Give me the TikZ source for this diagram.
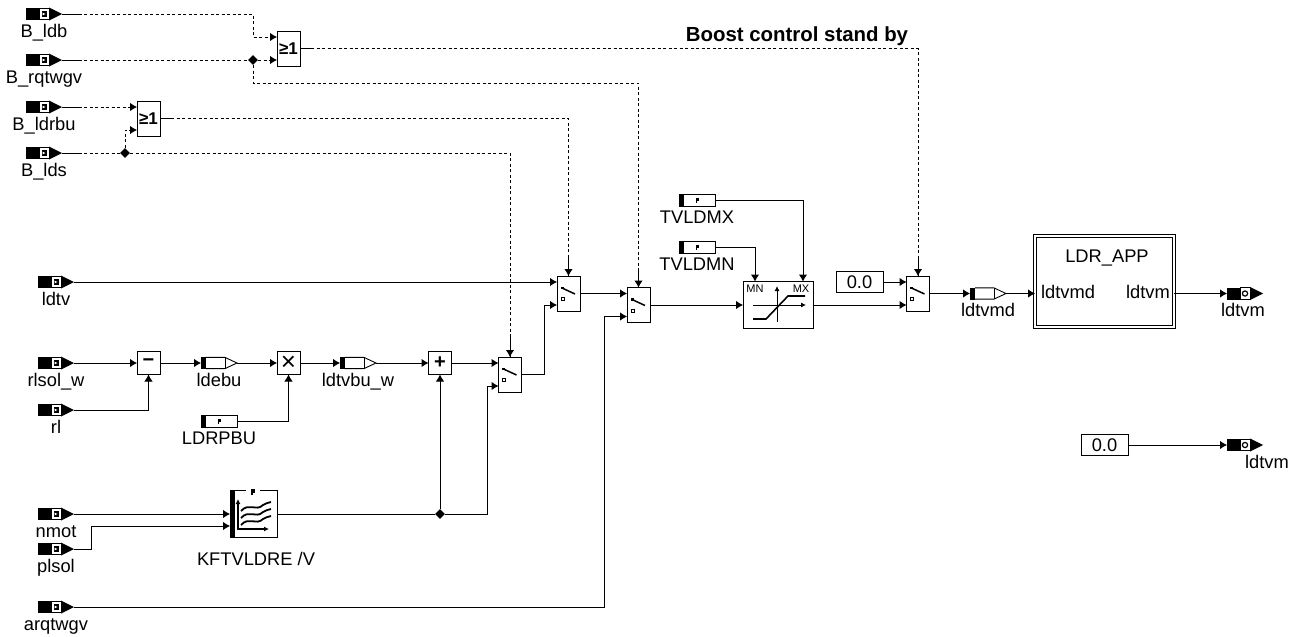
\documentclass[tikz,border=0pt]{standalone}
\usepackage{fontspec}
\setmainfont{Liberation Sans}
\usetikzlibrary{arrows.meta,shapes.geometric}
\tikzset{Lbase/.style={line width=1pt},
         Lsig/.style={Lbase,-{Latex[length=7pt,width=8.5pt]}},
         Lnet/.style={Lbase},
         Lda/.style={dash pattern=on 3pt off 2.5pt},
         Llab/.style={font=\fontsize{18.3}{20}\selectfont,inner sep=0pt,text height=13pt,text depth=4pt},
         Lport/.style={rectangle,inner sep=0pt,outer sep=0pt,minimum width=36pt,minimum height=12pt},
         Lbox/.style={rectangle,draw,fill=white,Lbase,inner sep=0pt,outer sep=0pt,minimum width=23pt,minimum height=35pt},
         Lop/.style={Lbox,minimum height=23pt,font=\fontsize{20}{20}\bfseries\selectfont},
         Lor/.style={Lbox,font=\fontsize{17}{17}\bfseries\selectfont},
         Lconst/.style={Lbox,minimum width=47pt,minimum height=21pt,font=\fontsize{18.3}{20}\selectfont},
         Ljun/.style={diamond,fill=black,inner sep=0pt,minimum size=10pt}}
\begin{document}
\begin{tikzpicture}[x=1pt,y=-1pt]
    \useasboundingbox (0,0) rectangle (1296,637);
    \foreach \n/\x/\y/\t in {pBldb/44/14/B\_ldb,pBrq/44/60/B\_rqtwgv,pBdr/44/107/B\_ldrbu,pBds/44/153/B\_lds,
        pldtv/56/282/ldtv,prlsol/56/363/rlsol\_w,prl/56/410/rl,pnmot/56/514/nmot,pplsol/56/549/plsol,parq/56/607/arqtwgv} {
      \node[Lport] (\n) at (\x,\y) {};
      \node[Llab] (\n t) at (\x,\y+18.5) {\t};
      \begin{scope}[shift={(\n.west)}]
        \fill (0,-6) rectangle (13,6);
        \draw[line width=.9pt] (13,-5.6) rectangle (23,5.6);
        \fill (15.5,-2.7) rectangle (20.5,2.7);
        \fill[white] (16.5,-1.4) -- (19.5,0) -- (16.5,1.4) -- cycle;
        \fill (23,-6.5) -- (36,0) -- (23,6.5) -- cycle;
      \end{scope}}
    \foreach \n/\y/\d in {pout/293.5/-2,poutb/445/22} {
      \node[Lport] (\n) at (1245,\y) {};
      \node[Llab] (\n t) at (1245+\d,\y+18.5) {ldtvm};
      \begin{scope}[shift={(\n.west)}]
        \fill (0,-6) rectangle (13,6);
        \draw[line width=.9pt] (13,-5.6) rectangle (23,5.6);
        \draw[line width=1.2pt] (18,0) circle (2.6pt);
        \fill (23,-6.5) -- (36,0) -- (23,6.5) -- cycle;
      \end{scope}}
    \foreach \n/\x/\y/\t in {mldebu/219/363/ldebu,mldtvbu/358/363/ldtvbu\_w,mldtvmd/988/293.5/ldtvmd} {
      \node[Lport] (\n) at (\x,\y) {};
      \node[Llab] (\n t) at (\x,\y+18.5) {\t};
      \begin{scope}[shift={(\n.west)}]
        \fill (0,-6) rectangle (5,6);
        \draw[line width=.9pt] (5,-5.6) -- (24,-5.6) -- (36,0) -- (24,5.6) -- (5,5.6);
        \draw[line width=.9pt] (24,-5.6) -- (24,5.6);
      \end{scope}}
    \foreach \n/\x/\y/\t in {cLDRPBU/219/421/LDRPBU,cTVMX/697/200/TVLDMX,cTVMN/697/247/TVLDMN} {
      \node[Lport] (\n) at (\x,\y) {};
      \node[Llab] (\n t) at (\x,\y+18.5) {\t};
      \begin{scope}[shift={(\n.west)}]
        \draw[line width=.9pt] (0,-6) rectangle (36,6);
        \fill (0,-6) rectangle (5,6);
        \fill (16.5,-2.5) rectangle (20,.5);
        \fill (16.5,0) rectangle (18,2.5);
      \end{scope}}
    \node[Lor] (orB) at (288.5,48.5) {≥1};
    \node[Lor] (orA) at (148.5,118.5) {≥1};
    \node[Lop] (minus) at (148.5,363) {−};
    \node[Lop,font=\fontsize{26}{26}\selectfont] (times) at (288.5,363) {×};
    \node[Lop] (plus) at (440,363) {+};
    \foreach \n/\x/\y in {swD/510/374.5,swA/568.5/293.5,swB/638.5/305,swC/918/293.5} {
      \node[Lbox] (\n) at (\x,\y) {};
      \begin{scope}[shift={(\n.center)}]
        \draw[line width=1.5pt] (-6.5,-5.5) -- (6.5,.5);
        \fill (-8,-7) rectangle (-5,-4.5);
        \draw[line width=.9pt] (-7.5,4) rectangle (-4.5,7);
      \end{scope}}
    \node[Lbox,minimum width=70pt,minimum height=47pt] (limit) at (778,305) {};
    \node[font=\fontsize{11}{11}\selectfont,inner sep=0pt] (limn) at (755,289) {MN};
    \node[font=\fontsize{11}{11}\selectfont,inner sep=0pt] (limx) at (801,289) {MX};
    \draw[line width=.9pt,-{Latex[length=5pt,width=5pt]}] (777,322) -- (777,286);
    \draw[line width=.9pt,-{Latex[length=5pt,width=5pt]}] (753,305) -- (806,305);
    \draw[line width=1.6pt] (753,319) -- (766,319) -- (788,296) -- (805,296);
    \node[Lbox,minimum width=47pt,minimum height=47pt] (map) at (253.5,514) {};
    \fill (map.north west) rectangle (235,537.5);
    \draw[white,line width=2pt] (246,490.5) -- (260,490.5);
    \fill (251,488.5) rectangle (255,492.5);
    \fill (251,491) rectangle (252.5,495);
    \draw[line width=1.2pt,{Latex[length=5pt,width=5pt]}-{Latex[length=5pt,width=5pt]}] (238,499) -- (238,529) -- (269,529);
    \foreach \d in {0,7,14}
      \draw[line width=1.8pt] (241,511+\d) .. controls (249,502+\d) and (256,512+\d) .. (263,505+\d) .. controls (266,503+\d) and (268,503+\d) .. (271,502+\d);
    \node[Llab] (mapt) at (256,561) {KFTVLDRE /V};
    \node[Lconst] (cZero) at (859.5,282) {0.0};
    \node[Lconst] (cZerob) at (1104.5,445) {0.0};
    \node[rectangle,draw,Lbase,double,double distance=1.5pt,inner sep=0pt,outer sep=0pt,minimum width=139pt,minimum height=91pt] (LDR) at (1104.5,281.5) {};
    \node[Llab] (LDRt) at (1107,258) {LDR\_APP};
    \node[Llab] (LDRi) at (1068,293.5) {ldtvmd};
    \node[Llab] (LDRo) at (1148,293.5) {ldtvm};
    \node[Llab,font=\fontsize{20.4}{22}\bfseries\selectfont] (boost) at (797,37) {Boost control stand by};
    \node[Ljun] (jB) at (253,60) {};
    \node[Ljun] (jA) at (125,153) {};
    \node[Ljun] (jM) at (440,514) {};
    \coordinate (bB) at (253,83);
    \coordinate (bP) at (91,549);
    \coordinate (bM) at (487,514);
    \coordinate (bD) at (544,374.5);
    \coordinate (bQ) at (604,607);
    \draw[Lsig,Lda] (pBldb.east) -- (jB |- pBldb.east) |- ([yshift=11.5pt]orB.west);
    \draw[Lnet,Lda] (pBrq.east) -- (jB);
    \draw[Lsig,Lda] (jB) -- ([yshift=-11.5pt]orB.west);
    \draw[Lsig,Lda] (jB) -- (bB) -| (swB.north);
    \draw[Lsig,Lda] (orB.east) -| (swC.north);
    \draw[Lsig,Lda] (pBdr.east) -- ([yshift=11.5pt]orA.west);
    \draw[Lnet,Lda] (pBds.east) -- (jA);
    \draw[Lsig,Lda] (jA) |- ([yshift=-11.5pt]orA.west);
    \draw[Lsig,Lda] (jA) -| (swD.north);
    \draw[Lsig,Lda] (orA.east) -| (swA.north);
    \foreach \n in {pBldb,pBrq,pBdr,pBds} \draw[Lnet] (\n.east) -- ++(19,0);
    \foreach \n in {orA,orB} \draw[Lnet] (\n.east) -- ++(12,0);
    \foreach \n in {swA,swB,swC,swD} \draw[Lnet] (\n.north) -- ++(0,-20);
    \draw[Lsig] (pldtv.east) -- ([yshift=11.5pt]swA.west);
    \draw[Lsig] (prlsol.east) -- (minus.west);
    \draw[Lsig] (prl.east) -| (minus.south);
    \draw[Lsig] (minus.east) -- (mldebu.west);
    \draw[Lsig] (mldebu.east) -- (times.west);
    \draw[Lsig] (cLDRPBU.east) -| (times.south);
    \draw[Lsig] (times.east) -- (mldtvbu.west);
    \draw[Lsig] (mldtvbu.east) -- (plus.west);
    \draw[Lsig] (plus.east) -- ([yshift=11.5pt]swD.west);
    \draw[Lsig] (pnmot.east) -- (map.west);
    \draw[Lsig] (pplsol.east) -- (bP) |- ([yshift=-12pt]map.west);
    \draw[Lnet] (map.east) -- (jM);
    \draw[Lsig] (jM) -- (plus.south);
    \draw[Lsig] (jM) -- (bM) |- ([yshift=-11.5pt]swD.west);
    \draw[Lsig] (swD.east) -- (bD) |- ([yshift=-11.5pt]swA.west);
    \draw[Lsig] (swA.east) -- ([yshift=11.5pt]swB.west);
    \draw[Lsig] (parq.east) -- (bQ) |- ([yshift=-11.5pt]swB.west);
    \draw[Lsig] (swB.east) -- (limit.west);
    \draw[Lsig] (cTVMN.east) -| ([xshift=-23pt]limit.north);
    \draw[Lsig] (cTVMX.east) -| ([xshift=25pt]limit.north);
    \draw[Lsig] (limit.east) -- ([yshift=-11.5pt]swC.west);
    \draw[Lsig] (cZero.east) -- ([yshift=11.5pt]swC.west);
    \draw[Lsig] (swC.east) -- (mldtvmd.west);
    \draw[Lsig] (mldtvmd.east) -- (LDR.west |- mldtvmd.east);
    \draw[Lsig] (LDR.east |- pout.west) -- (pout.west);
    \draw[Lsig] (cZerob.east) -- (poutb.west);
  \end{tikzpicture}
\end{document}
